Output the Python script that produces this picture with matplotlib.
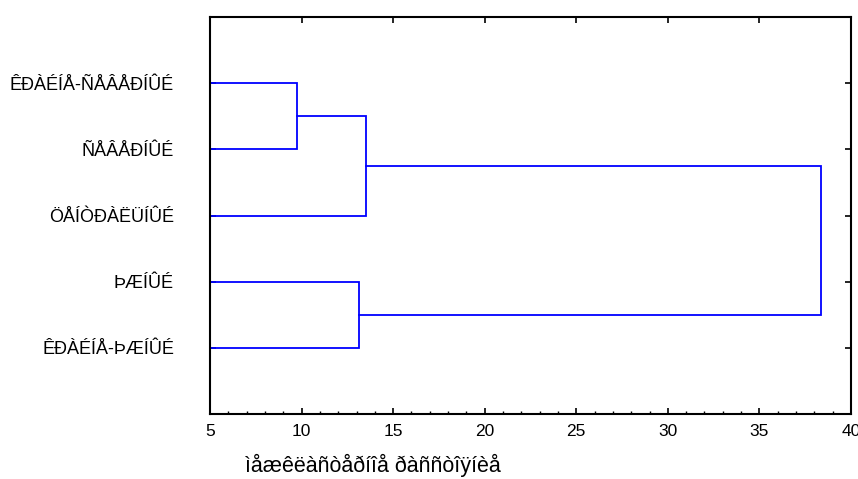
import matplotlib
matplotlib.use("Agg")
import matplotlib.pyplot as plt
from matplotlib.ticker import MultipleLocator

plt.rcParams['font.family'] = ['Liberation Sans', 'DejaVu Sans']

# leaves from top to bottom
leaves = ['ÊÐÀÉÍÅ-ÑÅÂÅÐÍÛÉ', 'ÑÅÂÅÐÍÛÉ', 'ÖÅÍÒÐÀËÜÍÛÉ', 'ÞÆÍÛÉ', 'ÊÐÀÉÍÅ-ÞÆÍÛÉ']
# merges: (left node, right node, distance); nodes 0..4 are leaves, 5.. are clusters
merge_a = [0, 5, 3, 6]
merge_b = [1, 2, 4, 7]
merge_dist = [9.75, 13.52, 13.15, 38.37]
xlabel = 'ìåæêëàñòåðíîå ðàññòîÿíèå'

fig = plt.figure(figsize=(8.58, 4.79), dpi=100)
ax = fig.add_axes([0.2448, 0.1357, 0.7470, 0.8288])

pos = {i: i + 1 for i in range(len(leaves))}
height = {i: 5.0 for i in range(len(leaves))}
for k, (a, b, d) in enumerate(zip(merge_a, merge_b, merge_dist)):
    ya, yb = pos[a], pos[b]
    ax.plot([height[a], d, d, height[b]], [ya, ya, yb, yb], color='#0000ff', lw=1.3,
            solid_joinstyle='miter')
    node = len(leaves) + k
    pos[node] = (ya + yb) / 2
    height[node] = d

ax.set_xlim(5, 40)
ax.set_ylim(6, 0)
ax.set_yticks(range(1, len(leaves) + 1))
ax.set_yticklabels(leaves, fontsize=13)
ax.xaxis.set_major_locator(MultipleLocator(5))
ax.xaxis.set_minor_locator(MultipleLocator(1))
ax.tick_params(axis='x', which='major', direction='in', length=4, width=1.2, top=True,
               labelsize=12.5, pad=7)
ax.tick_params(axis='x', which='minor', direction='in', length=2.5, width=1, top=False)
ax.tick_params(axis='y', direction='in', length=4, width=1.2, right=True, pad=26)
for s in ax.spines.values():
    s.set_linewidth(1.5)

fig.text(245 / 858, 1 - 465 / 479, xlabel, fontsize=15.5, ha='left', va='center')

fig.savefig('out.png', dpi=100)
